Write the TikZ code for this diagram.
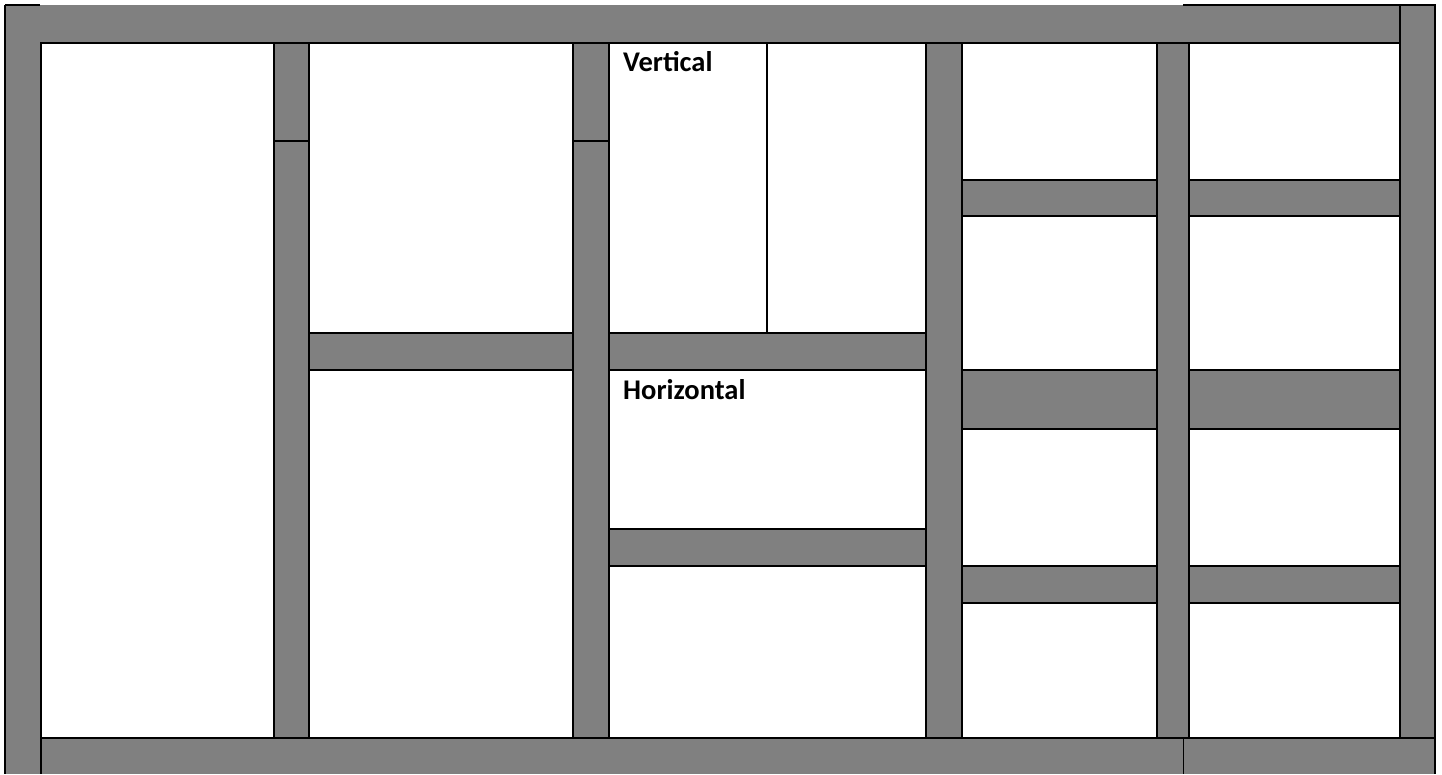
\documentclass[tikz,border=0pt]{standalone}
\usepackage{fontspec}
\setmainfont{Carlito}
\usetikzlibrary{positioning}
\definecolor{beamgrey}{HTML}{808080}

\begin{document}
\begin{tikzpicture}[
  x=1pt, y=-1pt,
  frame/.style={line width=1.3pt, black},
  panel/.style={fill=white, draw=black, line width=1.3pt},
  post/.style={fill=beamgrey, draw=black, line width=1.3pt},
  tag/.style={font=\fontsize{28.5}{32}\selectfont\bfseries, text=black,
    anchor=base west, inner sep=0pt},
]

% Background
\useasboundingbox (0,0) rectangle (1442,774);
\fill[white] (0,0) rectangle (1442,774);

% =============================================
% Grey frame, posts and beams
% =============================================
\fill[beamgrey] (5,5) rectangle (1435,774);

% =============================================
% Open panels
% =============================================
\draw[panel] (41,43) rectangle (274,738);

\draw[panel] (309,43) rectangle (573,333);
\draw[panel] (309,370) rectangle (573,738);

\draw[panel] (609,43) rectangle (926,333);
\draw[frame] (767,43) -- (767,333);
\draw[panel] (609,370) rectangle (926,529);
\draw[panel] (609,566) rectangle (926,738);

\foreach \xa/\xb in {962/1157, 1189/1400} {
  \draw[panel] (\xa,43) rectangle (\xb,180);
  \draw[panel] (\xa,216) rectangle (\xb,370);
  \draw[panel] (\xa,429) rectangle (\xb,566);
  \draw[panel] (\xa,603) rectangle (\xb,738);
}

% =============================================
% Vertical posts (in front of the beams)
% =============================================
\draw[post] (274,43) rectangle (309,738);
\draw[post] (573,43) rectangle (609,738);
\draw[post] (926,43) rectangle (962,738);
\draw[post] (1157,43) rectangle (1189,738);
\draw[frame] (274,141) -- (309,141);
\draw[frame] (573,141) -- (609,141);

% =============================================
% Frame lines
% =============================================
\draw[frame] (5,5) -- (5,774);
\draw[frame] (5,5) -- (40,5);
\draw[frame] (1183,5) -- (1435,5) -- (1435,774);
\draw[frame] (41,43) -- (1400,43);
\draw[frame] (41,43) -- (41,774);
\draw[frame] (1400,5) -- (1400,738);
\draw[frame] (41,738) -- (1435,738);
\draw[frame] (1183.5,738) -- (1183.5,774);

% Labels
\node[tag] (vert) at (623,71.7) {Vertical};
\node[tag] (horiz) at (623,399.3) {Horizontal};

\end{tikzpicture}
\end{document}
